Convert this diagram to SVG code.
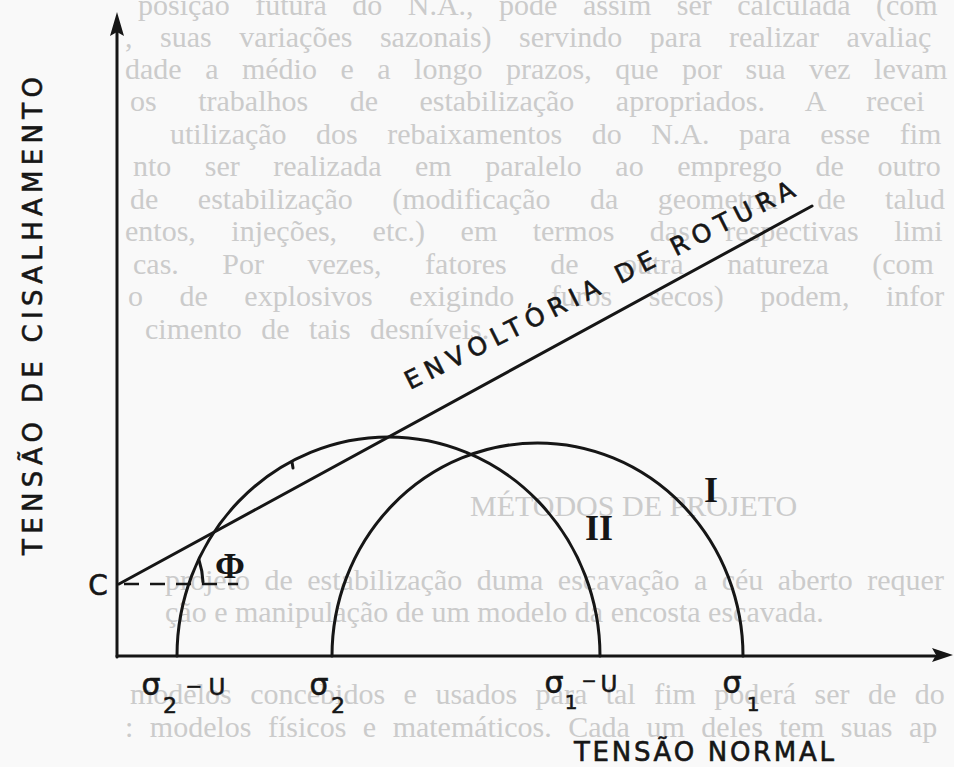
<svg xmlns="http://www.w3.org/2000/svg" width="954" height="767" viewBox="0 0 954 767">
<style>
.bg{font-family:"Liberation Serif",serif;font-size:30px;fill:#cbcbcb}
.ln{fill:none;stroke:#161616;stroke-width:3;stroke-linecap:round}
.lbl{font-family:"DejaVu Sans","Liberation Sans",sans-serif;fill:#161616;stroke:#161616;stroke-width:0.6}
.rom{font-family:"Liberation Serif",serif;font-weight:bold;fill:#161616}
</style>
<rect width="954" height="767" fill="#f9f9f9"/>
<g id="bleed-through">
<text class="bg" x="138" y="15" word-spacing="18">posição futura do N.A., pode assim ser calculada (com</text>
<text class="bg" x="125" y="47" word-spacing="20">, suas variações sazonais) servindo para realizar avaliaç</text>
<text class="bg" x="125" y="79" word-spacing="16">dade a médio e a longo prazos, que por sua vez levam</text>
<text class="bg" x="130" y="111" word-spacing="34">os trabalhos de estabilização apropriados. A recei</text>
<text class="bg" x="170" y="144" word-spacing="22">utilização dos rebaixamentos do N.A. para esse fim</text>
<text class="bg" x="133" y="176" word-spacing="26">nto ser realizada em paralelo ao emprego de outro</text>
<text class="bg" x="130" y="209" word-spacing="32">de estabilização (modificação da geometria de talud</text>
<text class="bg" x="125" y="241" word-spacing="28">entos, injeções, etc.) em termos das respectivas limi</text>
<text class="bg" x="133" y="274" word-spacing="36">cas. Por vezes, fatores de outra natureza (com</text>
<text class="bg" x="128" y="306" word-spacing="29">o de explosivos exigindo furos secos) podem, infor</text>
<text class="bg" x="145" y="339" word-spacing="12">cimento de tais desníveis.</text>
<text class="bg" x="470" y="516" font-size="22">MÉTODOS DE PROJETO</text>
<text class="bg" x="165" y="590" word-spacing="7">projeto de estabilização duma escavação a céu aberto requer</text>
<text class="bg" x="165" y="622" font-size="28">ção e manipulação de um modelo da encosta escavada.</text>
<text class="bg" x="130" y="704" word-spacing="11">modelos concebidos e usados para tal fim poderá ser de do</text>
<text class="bg" x="125" y="737" word-spacing="9">: modelos físicos e matemáticos. Cada um deles tem suas ap</text>
</g>
<g id="connectors">
<g id="y-axis">
<line class="ln" x1="117" y1="657" x2="117" y2="30"/>
<polygon points="117,12 110,36 117,32 124,36" fill="#161616"/>
</g>
<g id="x-axis">
<line class="ln" x1="117" y1="656" x2="935" y2="656"/>
<polygon points="953,655 932,648 936,655 932,662" fill="#161616"/>
</g>
<g id="envelope-line">
<line class="ln" x1="119" y1="584" x2="812" y2="206"/>
</g>
<g id="c-dashed">
<line x1="124" y1="584" x2="238" y2="584" stroke="#161616" stroke-width="2.5" stroke-dasharray="15 11"/>
</g>
</g>
<g id="circle-II">
<path class="ln" d="M177,656 A211.5,219 0 0 1 600,656"/>
<line class="ln" x1="292" y1="462" x2="293" y2="468" stroke-width="2.5"/>
<text class="rom" x="599" y="540" font-size="36" text-anchor="middle">II</text>
</g>
<g id="circle-I">
<path class="ln" d="M332,656 A205.5,213 0 0 1 743,656"/>
<text class="rom" x="711" y="502" font-size="36" text-anchor="middle">I</text>
</g>
<g id="phi-angle">
<path class="ln" d="M199,560 A84,84 0 0 1 203,582" stroke-width="3.5"/>
<text class="rom" x="230" y="578" font-size="36" font-weight="normal" text-anchor="middle">Φ</text>
</g>
<g id="label-c">
<text class="lbl" x="98" y="595" font-size="28" text-anchor="middle">C</text>
</g>
<g id="label-s2u">
<text class="lbl" x="151" y="695" font-size="30" text-anchor="middle">σ</text>
<text class="lbl" x="170" y="713" font-size="22" text-anchor="middle">2</text>
<text class="lbl" x="194" y="693" font-size="20" text-anchor="middle">−</text>
<text class="lbl" x="217" y="695" font-size="23" text-anchor="middle">U</text>
</g>
<g id="label-s2">
<text class="lbl" x="319" y="695" font-size="30" text-anchor="middle">σ</text>
<text class="lbl" x="338" y="713" font-size="22" text-anchor="middle">2</text>
</g>
<g id="label-s1u">
<text class="lbl" x="554" y="693" font-size="30" text-anchor="middle">σ</text>
<text class="lbl" x="571" y="709" font-size="20" text-anchor="middle">1</text>
<text class="lbl" x="589" y="687" font-size="18" text-anchor="middle">−</text>
<text class="lbl" x="609" y="692" font-size="23" text-anchor="middle">U</text>
</g>
<g id="label-s1">
<text class="lbl" x="732" y="693" font-size="30" text-anchor="middle">σ</text>
<text class="lbl" x="753" y="711" font-size="20" text-anchor="middle">1</text>
</g>
<g id="label-x-axis">
<text class="lbl" x="574" y="761" font-size="26" textLength="260" lengthAdjust="spacing">TENSÃO NORMAL</text>
</g>
<g id="label-y-axis">
<text class="lbl" transform="translate(42,316) rotate(-90)" x="0" y="0" font-size="26" text-anchor="middle" textLength="478" lengthAdjust="spacing">TENSÃO DE CISALHAMENTO</text>
</g>
<g id="label-envelope">
<text class="lbl" transform="translate(410,390) rotate(-26.7)" x="0" y="0" font-size="25" textLength="433" lengthAdjust="spacing">ENVOLTÓRIA DE ROTURA</text>
</g>
</svg>
